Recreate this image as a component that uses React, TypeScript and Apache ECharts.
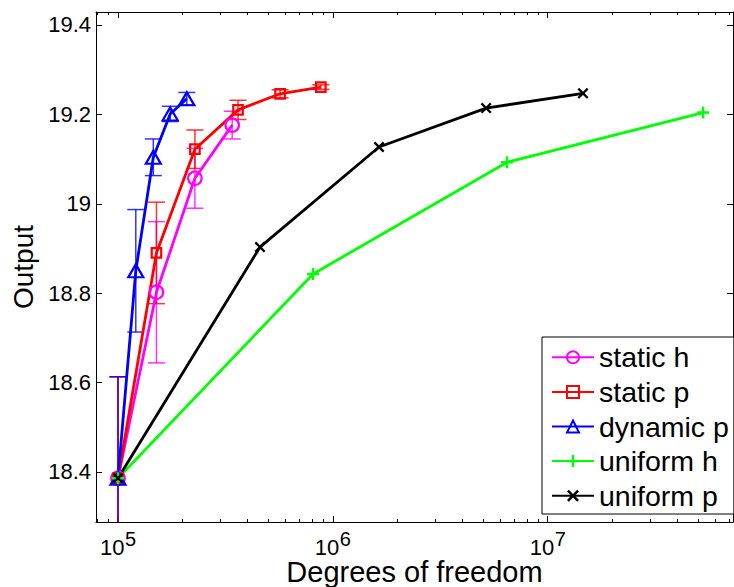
import React, { useEffect, useRef } from 'react';
import * as echarts from 'echarts';

const FONT = '"Liberation Sans", Arial, Helvetica, sans-serif';

// ---- data (degrees of freedom, output, error half-width) ----
const seriesNames = ['static h', 'static p', 'dynamic p', 'uniform h', 'uniform p'];

const dofStaticH = [1.0e5, 1.51e5, 2.28e5, 3.40e5];
const outStaticH = [18.386, 18.802, 19.057, 19.176];
const errStaticH = [0.227, 0.158, 0.067, 0.031];

const dofStaticP = [1.0e5, 1.51e5, 2.28e5, 3.62e5, 5.68e5, 8.79e5];
const outStaticP = [18.386, 18.89, 19.122, 19.21, 19.246, 19.261];
const errStaticP = [0.227, 0.1135, 0.043, 0.0215, 0.009, 0.005];

const dofDynamicP = [1.0e5, 1.21e5, 1.46e5, 1.75e5, 2.09e5];
const outDynamicP = [18.386, 18.85, 19.104, 19.201, 19.235];
const errDynamicP = [0.227, 0.137, 0.041, 0.017, 0.014];

const dofUniformH = [1.0e5, 8.09e5, 6.47e6, 5.29e7];
const outUniformH = [18.386, 18.843, 19.093, 19.204];

const dofUniformP = [1.0e5, 4.58e5, 1.64e6, 5.17e6, 1.46e7];
const outUniformP = [18.386, 18.903, 19.127, 19.214, 19.247];

const xMajorExponents = [5, 6, 7];
const yTickValues = [18.4, 18.6, 18.8, 19, 19.2, 19.4];

const X_MIN = 4.8976; // log10 of axis left limit
const X_MAX = 7.8625; // log10 of axis right limit
const Y_MIN = 18.288;
const Y_MAX = 19.429;

const colors = ['#ff00ff', '#ff0000', '#0000ff', '#00ff00', '#000000'];

const PLUS = 'path://M4,0H6V4H10V6H6V10H4V6H0V4H4Z';
const CROSS = 'path://M0,1.5L1.5,0L5,3.5L8.5,0L10,1.5L6.5,5L10,8.5L8.5,10L5,6.5L1.5,10L0,8.5L3.5,5Z';

function minorTicks(): number[] {
  const out: number[] = [];
  for (let n = 4; n <= 7; n++) {
    for (let k = 2; k <= 9; k++) {
      const v = Math.log10(k * Math.pow(10, n));
      if (v > X_MIN && v < X_MAX) out.push(v);
    }
  }
  return out;
}

export default function App() {
  const ref = useRef<HTMLDivElement>(null);

  useEffect(() => {
    if (!ref.current) return;
    const chart = echarts.init(ref.current, undefined, { renderer: 'svg' });

    const toPts = (dof: number[], out: number[]) => dof.map((d, i) => [Math.log10(d), out[i]]);
    const toErr = (dof: number[], out: number[], err: number[]) =>
      dof.map((d, i) => [Math.log10(d), out[i], err[i]]);

    const minor = minorTicks();
    const major = xMajorExponents.slice();

    const axisLineStyle = { color: '#000', width: 1 };

    const xBase = {
      type: 'value',
      min: X_MIN,
      max: X_MAX,
      splitLine: { show: false },
    };
    const yBase = {
      type: 'value',
      min: Y_MIN,
      max: Y_MAX,
      splitLine: { show: false },
    };

    const errSeries = (idx: number, dof: number[], out: number[], err: number[]) => ({
      type: 'custom',
      name: seriesNames[idx] + ' err',
      silent: true,
      z: 1,
      xAxisIndex: 0,
      yAxisIndex: 0,
      data: toErr(dof, out, err),
      renderItem: (params: any, api: any) => {
        const x = api.value(0);
        const y = api.value(1);
        const e = api.value(2);
        const top = api.coord([x, y + e]);
        const bot = api.coord([x, y - e]);
        const cs = params.coordSys;
        const yTop = Math.max(top[1], cs.y);
        const yBot = Math.min(bot[1], cs.y + cs.height);
        const st = { stroke: colors[idx], lineWidth: 1.5, opacity: 0.8 };
        const half = 8.5;
        const children: any[] = [
          { type: 'line', shape: { x1: top[0], y1: yTop, x2: top[0], y2: yBot }, style: st },
        ];
        if (top[1] >= cs.y) {
          children.push({ type: 'line', shape: { x1: top[0] - half, y1: top[1], x2: top[0] + half, y2: top[1] }, style: st });
        }
        if (bot[1] <= cs.y + cs.height) {
          children.push({ type: 'line', shape: { x1: bot[0] - half, y1: bot[1], x2: bot[0] + half, y2: bot[1] }, style: st });
        }
        return { type: 'group', children };
      },
    });

    const lineSeries = (idx: number, dof: number[], out: number[], symbol: string, size: any, hollow: boolean) => ({
      type: 'line',
      name: seriesNames[idx],
      z: 2,
      xAxisIndex: 0,
      yAxisIndex: 0,
      data: toPts(dof, out),
      symbol,
      symbolSize: size,
      showAllSymbol: true,
      lineStyle: { color: colors[idx], width: 2.8 },
      itemStyle: hollow
        ? { color: 'rgba(0,0,0,0)', borderColor: colors[idx], borderWidth: 2.2 }
        : { color: colors[idx], borderWidth: 0 },
      emphasis: { disabled: true },
    });

    const option: any = {
      animation: false,
      backgroundColor: '#ffffff',
      textStyle: { fontFamily: FONT },
      grid: { left: 96, right: 1, top: 12, bottom: 65, outerBoundsMode: 'none' },
      xAxis: [
        {
          ...xBase,
          position: 'bottom',
          name: 'Degrees of freedom',
          nameLocation: 'middle',
          nameGap: 35,
          nameTextStyle: { fontSize: 29, color: '#000', fontFamily: FONT },
          axisLine: { show: true, onZero: false, lineStyle: axisLineStyle },
          axisTick: { show: true, inside: true, length: 6, customValues: major, lineStyle: axisLineStyle },
          axisLabel: { show: false },
        },
        {
          ...xBase,
          position: 'bottom',
          axisLine: { show: false, onZero: false },
          axisTick: { show: true, inside: true, length: 3, customValues: minor, lineStyle: axisLineStyle },
          axisLabel: { show: false },
        },
        {
          ...xBase,
          position: 'top',
          axisLine: { show: true, onZero: false, lineStyle: axisLineStyle },
          axisTick: { show: true, inside: true, length: 6, customValues: major, lineStyle: axisLineStyle },
          axisLabel: { show: false },
        },
        {
          ...xBase,
          position: 'top',
          axisLine: { show: false, onZero: false },
          axisTick: { show: true, inside: true, length: 3, customValues: minor, lineStyle: axisLineStyle },
          axisLabel: { show: false },
        },
      ],
      yAxis: [
        {
          ...yBase,
          position: 'left',
          name: 'Output',
          nameLocation: 'middle',
          nameGap: 58,
          nameTextStyle: { fontSize: 28, color: '#000', fontFamily: FONT },
          axisLine: { show: true, onZero: false, lineStyle: axisLineStyle },
          axisTick: { show: true, inside: true, length: 6, customValues: yTickValues, lineStyle: axisLineStyle },
          axisLabel: {
            show: true,
            customValues: yTickValues,
            margin: 5,
            fontSize: 22,
            color: '#000',
            fontFamily: FONT,
            formatter: (v: number) => String(+(+v).toFixed(1)),
          },
        },
        {
          ...yBase,
          position: 'right',
          axisLine: { show: true, onZero: false, lineStyle: axisLineStyle },
          axisTick: { show: true, inside: true, length: 6, customValues: yTickValues, lineStyle: axisLineStyle },
          axisLabel: { show: false },
        },
      ],
      legend: {
        data: seriesNames,
        orient: 'vertical',
        left: 542,
        top: 337,
        padding: [3, 5, 1, 9],
        itemGap: 0,
        itemWidth: 42,
        itemHeight: 15,
        borderColor: '#000',
        borderWidth: 1,
        backgroundColor: '#fff',
        selectedMode: false,
        textStyle: { fontSize: 28.5, color: '#000', lineHeight: 34.6, fontFamily: FONT },
        z: 10,
      },
      series: [
        errSeries(0, dofStaticH, outStaticH, errStaticH),
        errSeries(1, dofStaticP, outStaticP, errStaticP),
        errSeries(2, dofDynamicP, outDynamicP, errDynamicP),
        lineSeries(0, dofStaticH, outStaticH, 'circle', 13.5, true),
        lineSeries(1, dofStaticP, outStaticP, 'rect', 9.5, true),
        lineSeries(2, dofDynamicP, outDynamicP, 'triangle', [15, 13], true),
        lineSeries(3, dofUniformH, outUniformH, PLUS, 12, false),
        lineSeries(4, dofUniformP, outUniformP, CROSS, 11, false),
      ],
    };

    chart.setOption(option);

    // x tick labels as 10^n, placed through the axis scale
    const yBottom = chart.convertToPixel({ yAxisIndex: 0 }, Y_MIN) as number;
    const labels: any[] = [];
    major.forEach((e) => {
      const px = chart.convertToPixel({ xAxisIndex: 0 }, e) as number;
      labels.push({
        type: 'text',
        silent: true,
        style: {
          text: '10',
          x: px + 6.5,
          y: yBottom + 25,
          fill: '#000',
          fontSize: 22,
          fontFamily: FONT,
          align: 'right',
          verticalAlign: 'middle',
          textAlign: 'right',
          textVerticalAlign: 'middle',
        },
      });
      labels.push({
        type: 'text',
        silent: true,
        style: {
          text: String(e),
          x: px + 7,
          y: yBottom + 17,
          fill: '#000',
          fontSize: 20,
          fontFamily: FONT,
          align: 'left',
          verticalAlign: 'middle',
          textAlign: 'left',
          textVerticalAlign: 'middle',
        },
      });
    });
    chart.setOption({ graphic: labels });

    return () => chart.dispose();
  }, []);

  return (
    <div
      ref={ref}
      style={{ position: 'absolute', left: 0, top: 0, width: 734, height: 587, background: '#fff' }}
    />
  );
}
